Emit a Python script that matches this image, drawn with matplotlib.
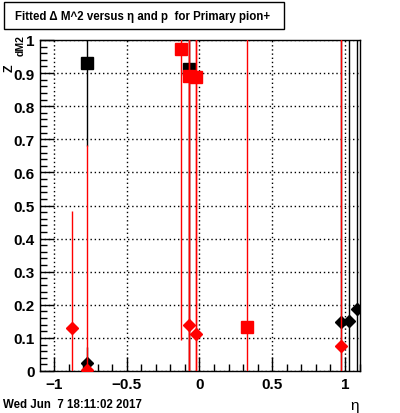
import matplotlib
matplotlib.use('Agg')
import matplotlib.pyplot as plt
from matplotlib.patches import Rectangle
from matplotlib.ticker import MultipleLocator, FuncFormatter

plt.rcParams['font.family'] = ['Liberation Sans', 'DejaVu Sans']

# black squares
bs_eta = [-0.771, -0.070]
bs_z = [0.930, 0.912]
bs_err = [0.25, 1.0]

# black diamonds
bd_eta = [-0.771, 0.975, 1.030, 1.080]
bd_z = [0.024, 0.147, 0.150, 0.186]
bd_err = [0.05, 1.0, 1.0, 1.0]

# red squares
rs_eta = [-0.125, -0.070, -0.022, 0.329]
rs_z = [0.972, 0.890, 0.887, 0.132]
rs_err = [0.877, 1.0, 1.0, 1.0]

# red diamonds
rd_eta = [-0.874, -0.771, -0.070, -0.022, 0.975]
rd_z = [0.129, 0.002, 0.139, 0.111, 0.075]
rd_err = [0.353, 0.68, 1.0, 1.0, 1.0]


def fmt(v, pos):
    s = ('%.1f' % v).rstrip('0').rstrip('.')
    if s in ('-0', ''):
        s = '0'
    return s.replace('-', '\u2212')


W, H = 400, 414
fig = plt.figure(figsize=(W / 100, H / 100), dpi=100)
ax = fig.add_axes([40 / W, (H - 372) / H, 320 / W, 331 / H])

ax.errorbar(bs_eta, bs_z, yerr=bs_err, fmt='s', color='black', ms=8.5, lw=1, capsize=0, zorder=3)
ax.errorbar(bd_eta, bd_z, yerr=bd_err, fmt='D', color='black', ms=6, lw=1, capsize=0, zorder=3)
ax.errorbar(rs_eta, rs_z, yerr=rs_err, fmt='s', color='red', ms=8.5, lw=1, capsize=0, zorder=4)
ax.errorbar(rd_eta, rd_z, yerr=rd_err, fmt='D', color='red', ms=6, lw=1, capsize=0, zorder=4)

ax.set_xlim(-1.096, 1.103)
ax.set_ylim(0, 1)
ax.xaxis.set_major_locator(MultipleLocator(0.5))
ax.xaxis.set_minor_locator(MultipleLocator(0.1))
ax.yaxis.set_major_locator(MultipleLocator(0.1))
ax.yaxis.set_minor_locator(MultipleLocator(0.02))
ax.xaxis.set_major_formatter(FuncFormatter(fmt))
ax.yaxis.set_major_formatter(FuncFormatter(fmt))
ax.tick_params(which='both', direction='in', top=False, right=False, width=1)
ax.tick_params(which='major', length=10, labelsize=11, pad=4)
ax.tick_params(which='minor', length=5)
for lab in ax.get_xticklabels() + ax.get_yticklabels():
    lab.set_fontweight('bold')
ax.grid(True, which='major', linestyle=(0, (1, 2)), color='black', lw=1)
for s in ax.spines.values():
    s.set_linewidth(1)

# y axis title Z_dM2, rotated
fig.text(10 / W, 1 - 68 / H, 'Z', rotation=90, ha='center', va='center',
         fontsize=9, fontweight='bold')
fig.text(21 / W, 1 - 46 / H, 'dM2', rotation=90, ha='center', va='center',
         fontsize=7.5, fontweight='bold')
fig.text(355 / W, 1 - 406 / H, '\u03b7', ha='center', va='center', fontsize=11)
fig.text(3 / W, 1 - 405 / H, 'Wed Jun  7 18:11:02 2017', ha='left', va='center',
         fontsize=8.3, fontweight='bold')

fig.patches.append(Rectangle((4 / W, 1 - 30 / H), 280 / W, 27 / H, transform=fig.transFigure,
                             fill=False, edgecolor='black', lw=1))
fig.text(15 / W, 1 - 17 / H, 'Fitted \u0394 M^2 versus \u03b7 and p  for Primary pion+',
         ha='left', va='center', fontsize=8.3, fontweight='bold')

fig.savefig('out.png', dpi=100)
